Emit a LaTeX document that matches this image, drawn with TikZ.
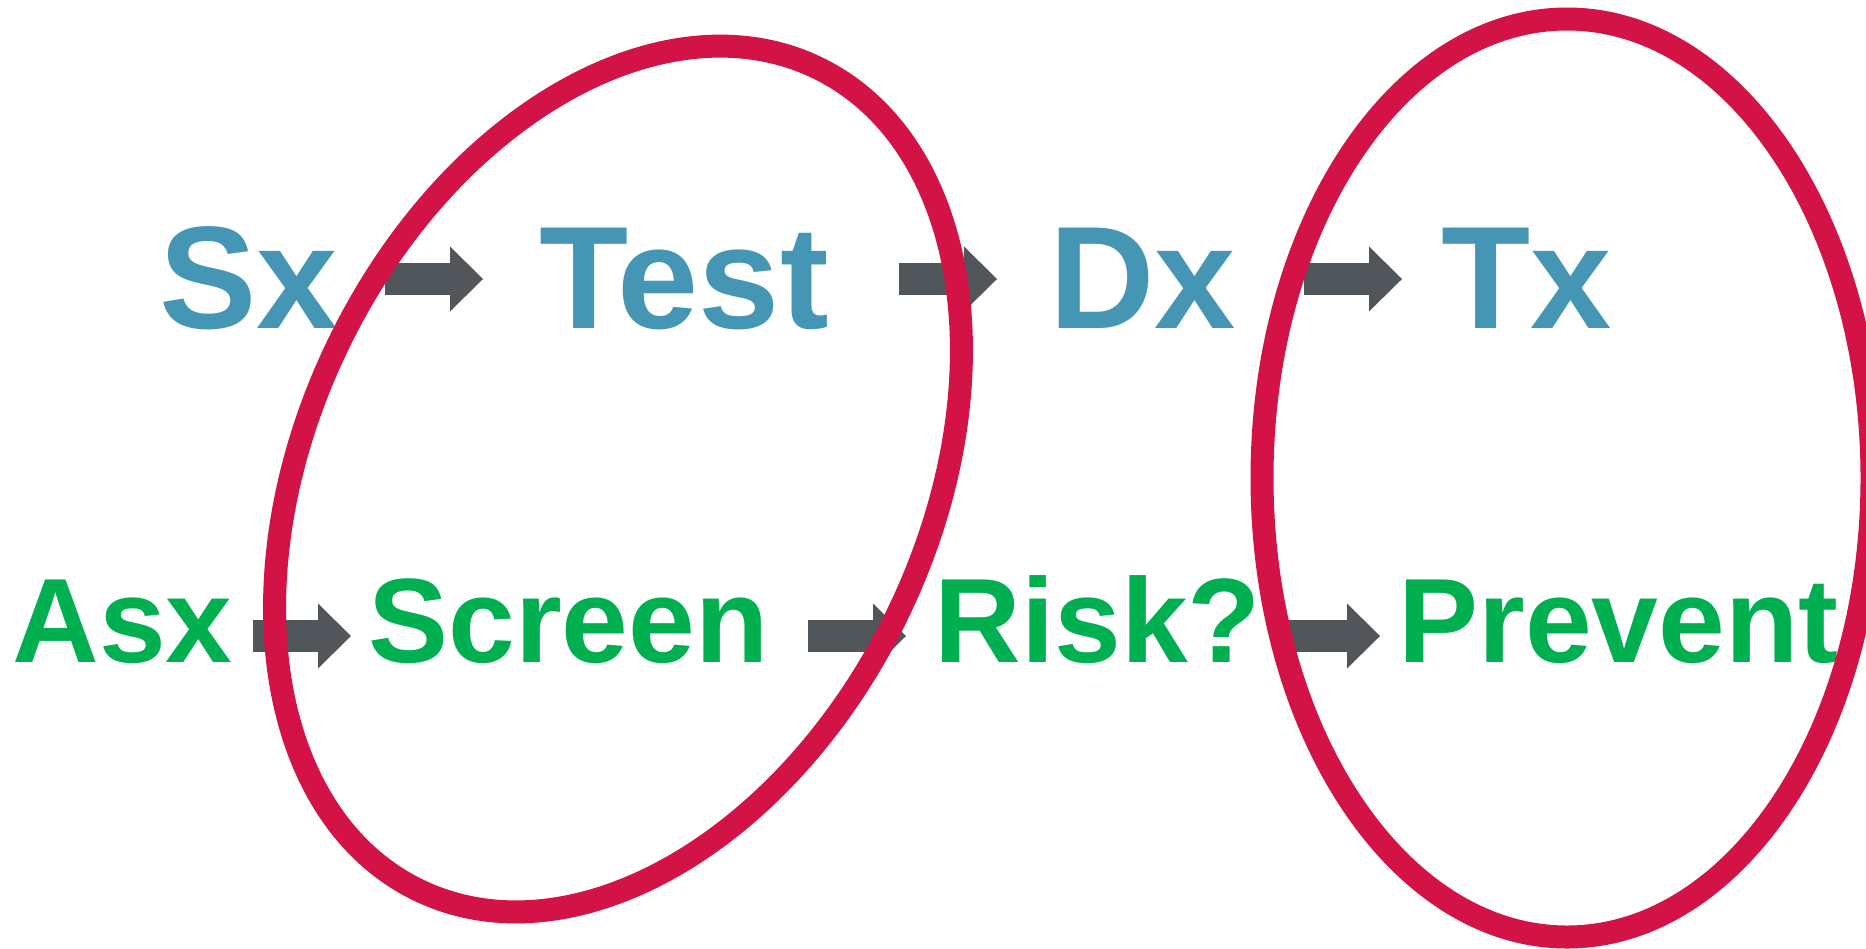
\documentclass[tikz,border=0pt]{standalone}
\usepackage{fontspec}
\setmainfont{Liberation Sans}
\usetikzlibrary{arrows.meta}
\definecolor{sxblue}{RGB}{69,150,181}
\definecolor{scgreen}{RGB}{0,176,80}
\definecolor{ringred}{RGB}{211,18,69}
\definecolor{arrgray}{RGB}{81,86,90}
\begin{document}
\begin{tikzpicture}[x=0.5pt,y=0.5pt,
  toplabel/.style={inner sep=0pt, anchor=base west, text=sxblue, font=\fontsize{73}{73}\selectfont\bfseries},
  botlabel/.style={inner sep=0pt, anchor=base west, text=scgreen, font=\fontsize{60}{60}\selectfont\bfseries},
  blockarrow/.style={draw=arrgray, line width=16pt, -{Triangle[length=16.5pt,width=32.5pt,line width=0pt]}},
  ring/.style={draw=ringred, line width=11.5pt}]
\useasboundingbox (0,0) rectangle (1866,-948);
% top row
\node[toplabel] (sx) at (159,-328) {Sx};
\node[toplabel] (test) at (539,-328) {Test};
\node[toplabel] (dx) at (1049,-328) {Dx};
\node[toplabel] (tx) at (1441,-328) {Tx};
% bottom row
\node[botlabel] (asx) at (12,-662) {Asx};
\node[botlabel] (screen) at (368,-662) {Screen};
\node[botlabel] (risk) at (934,-662) {Risk?};
\node[botlabel] (prevent) at (1398,-662) {Prevent};
% arrow ends
\coordinate (a1s) at (385,-279); \coordinate (a1e) at (483,-279);
\coordinate (a2s) at (899,-279); \coordinate (a2e) at (997,-279);
\coordinate (a3s) at (1304,-279); \coordinate (a3e) at (1402,-279);
\coordinate (a4s) at (253,-636); \coordinate (a4e) at (351,-636);
\coordinate (a5s) at (808,-636); \coordinate (a5e) at (906,-636);
\coordinate (a6s) at (1282,-636); \coordinate (a6e) at (1380,-636);
\draw[blockarrow] (a1s) -- (a1e);
\draw[blockarrow] (a2s) -- (a2e);
\draw[blockarrow] (a3s) -- (a3e);
\draw[blockarrow] (a4s) -- (a4e);
\draw[blockarrow] (a5s) -- (a5e);
\draw[blockarrow] (a6s) -- (a6e);
% rings
\coordinate (c1) at (618,-479);
\coordinate (c2) at (1567,-478);
\draw[ring, rotate around={64.05:(c1)}] (c1) ellipse [x radius=457, y radius=310.5];
\draw[ring] (c2) ellipse [x radius=305, y radius=459];
\end{tikzpicture}
\end{document}
